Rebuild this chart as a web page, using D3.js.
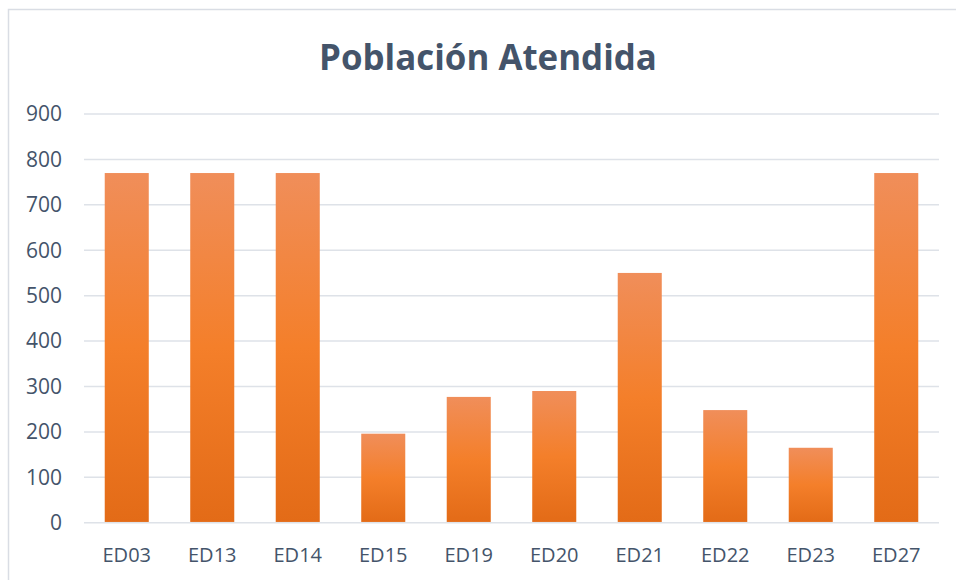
<!DOCTYPE html>
<html>
<head>
<meta charset="utf-8">
<script src="https://cdn.jsdelivr.net/npm/d3@7"></script>
<style>
  body { margin: 0; background: #fff; }
  text { font-family: "Open Sans", "Noto Sans", sans-serif; fill: #44546A; }
</style>
</head>
<body>
<svg id="chart" width="956" height="580"></svg>
<script>
const title = "Población Atendida";
const categories = ["ED03", "ED13", "ED14", "ED15", "ED19", "ED20", "ED21", "ED22", "ED23", "ED27"];
const values = [770, 770, 770, 196, 277, 290, 550, 248, 165, 770];
const yTicks = [0, 100, 200, 300, 400, 500, 600, 700, 800, 900];

const svg = d3.select("#chart");
const plot = {left: 84, right: 939, top: 114, bottom: 522.7};

// chart area border (runs off the right and bottom edges)
svg.append('rect')
    .attr('x', 8.5).attr('y', 9.5)
    .attr('width', 1000).attr('height', 1000)
    .attr('fill', "none")
    .attr('stroke', "#D9DDE4")
    .attr('stroke-width', 1.5);

let x = d3.scaleBand()
    .domain(categories)
    .range([plot.left, plot.right])
    .paddingInner(0.485)
    .paddingOuter(0.2425);

let y = d3.scaleLinear()
    .domain([0, 900])
    .range([plot.bottom, plot.top]);

// gradient per bar, light on top, darker at the base
let grad = svg.append('defs').append('linearGradient')
    .attr('id', "barFill")
    .attr('x1', 0).attr('y1', 0).attr('x2', 0).attr('y2', 1);
grad.append('stop').attr('offset', "0%").attr('stop-color', "#F08E5A");
grad.append('stop').attr('offset', "50%").attr('stop-color', "#F47F2A");
grad.append('stop').attr('offset', "100%").attr('stop-color', "#E36B17");

// gridlines
svg.append('g')
    .selectAll('line')
    .data(yTicks)
    .join('line')
    .attr('x1', plot.left).attr('x2', plot.right)
    .attr('y1', (d) => y(d)).attr('y2', (d) => y(d))
    .attr('stroke', "#DEE2E8")
    .attr('stroke-width', 1.5);

// y tick labels
svg.append('g')
    .selectAll('text')
    .data(yTicks)
    .join('text')
    .attr('x', 62)
    .attr('y', (d) => y(d))
    .attr('dy', "0.35em")
    .attr('text-anchor', "end")
    .style('font-size', "21px")
    .text((d) => d);

// bars
svg.append('g')
    .selectAll('rect')
    .data(values)
    .join('rect')
    .attr('x', (d, i) => x(categories[i]))
    .attr('width', x.bandwidth())
    .attr('y', (d) => y(d))
    .attr('height', (d) => y(0) - y(d) - 0.75)
    .attr('fill', "url(#barFill)");

// x labels
svg.append('g')
    .selectAll('text')
    .data(categories)
    .join('text')
    .attr('x', (d) => x(d) + x.bandwidth() / 2)
    .attr('y', 562)
    .attr('text-anchor', "middle")
    .style('font-size', "20px")
    .text((d) => d);

// title
let t = svg.append('text')
    .attr('x', 488)
    .attr('y', 70)
    .attr('text-anchor', "middle")
    .style('font-size', "34px")
    .style('font-weight', "bold")
    .text(title);
let w = t.node().getComputedTextLength();
t.style('font-size', (34 * 338 / w) + "px");
</script>
</body>
</html>
